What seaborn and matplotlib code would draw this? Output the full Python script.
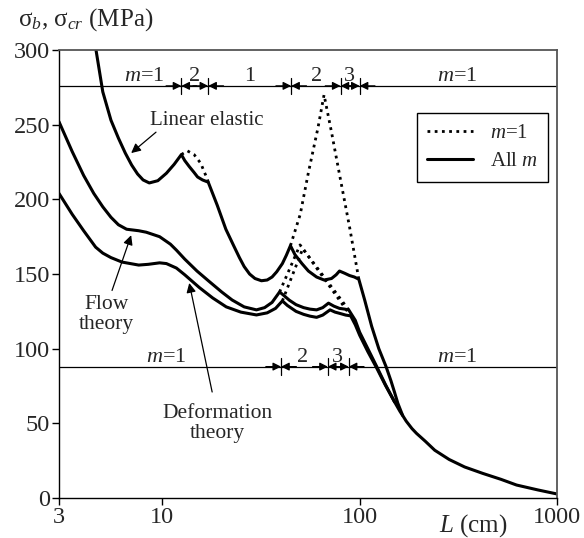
"""
Buckling / bending stress against length L for linear elastic,
flow theory and deformation theory (dotted: m=1 only, solid: all m).
"""

import numpy as np
import matplotlib
matplotlib.use("Agg")
import matplotlib.pyplot as plt
import seaborn as sns

# ---- data ----
elastic_L = [4.4, 4.62, 5, 5.5, 6, 6.5, 7, 7.5, 8, 8.6, 9.5, 10.5, 11.5, 12.5,
             13, 13.7, 14.5, 15.1, 16, 17.1, 19, 21, 23, 24.6, 26, 27.7, 29.5,
             31.8, 34, 36, 38, 40.6, 42.5, 44.6, 47, 51, 55, 60.5, 66, 72, 76,
             79, 84, 88.8, 94, 99, 106, 115, 125, 136, 144, 150, 156, 165]
elastic_s = [317, 300, 272, 253, 241, 231, 223, 217, 213, 211, 212.5, 217.5,
             223.5, 230, 226, 222, 218, 215, 213, 211.5, 196, 180, 169, 161,
             155, 150, 147, 145.5, 146, 148, 151.5, 157, 162.5, 169, 163, 157,
             152, 148, 146, 147, 149.5, 152, 150.5, 149, 148, 146.5, 132.6,
             115, 100, 88, 78.5, 71, 63.5, 55.3]

elastic_m1_a_L = [12.5, 13.4, 14.5, 15.7, 16.3, 16.9, 17.1]
elastic_m1_a_s = [230, 232.5, 230, 224, 218.5, 214, 211.5]
elastic_m1_b_L = [44.6, 50, 55, 61.5, 66, 72, 80, 89, 99]
elastic_m1_b_s = [169, 190, 218, 248, 270, 245, 213, 181, 146.5]

flow_L = [3, 3.5, 4, 4.5, 5, 5.5, 6, 6.6, 7.6, 8.3, 9.7, 11, 11.8, 13, 15,
          17.3, 20, 22.6, 26, 30, 33, 36, 39.3, 41, 44, 47.6, 52, 56, 60.5,
          65, 69.5, 74, 79, 84, 88, 95, 100, 110, 122, 135, 150]
flow_s = [252, 232, 216, 204, 195, 188, 183, 180, 179, 178, 175, 170, 166,
          160, 152, 145, 138, 132.6, 128, 126, 127.5, 131, 138, 136, 132.5,
          129.5, 127.5, 126.5, 126, 127.5, 130.5, 128.5, 127, 126.5, 126, 119,
          111, 100, 88, 76, 64.5]
flow_m1_L = [39.3, 49.9, 88]
flow_m1_s = [138, 169.5, 126]

deform_L = [3, 3.5, 4, 4.6, 5, 5.5, 6.26, 7.6, 8.5, 9.7, 10.5, 11.8, 13, 15.4,
            18, 21.1, 25, 30, 34, 37.5, 40.6, 43, 47.6, 52, 56, 60.5, 65,
            70.8, 75, 79, 85, 90, 95, 100, 110, 122, 135, 150]
deform_s = [204, 190, 179, 168, 164, 161, 158, 156, 156.5, 157.5, 157, 154,
            149.5, 141, 134, 128, 124.5, 122.6, 124, 127, 132, 129, 125, 123,
            121.8, 121, 122.5, 126, 124.5, 123.7, 122.5, 122, 116, 109, 98,
            87, 75.5, 64.5]
deform_m1_L = [40.6, 51.5, 90]
deform_m1_s = [132, 167, 122]

tail_L = [150, 160, 165, 172, 184, 194, 215, 240, 284, 340, 420, 520, 623,
          800, 1000]
tail_s = [64.5, 58, 55.3, 51.5, 46.5, 43.3, 38, 32, 25.8, 20.8, 16.5, 12.5,
          8.7, 5.4, 2.7]

# mode regions marked on the two horizontal lines
upper_level = 276
upper_bounds = [12.5, 17.1, 45, 80, 100]
upper_labels = ["$m$=1", "2", "1", "2", "3", "$m$=1"]
upper_label_x = [8.1, 14.5, 27.6, 60.6, 89, 313]

lower_level = 88
lower_bounds = [40, 69, 88]
lower_labels = ["$m$=1", "2", "3", "$m$=1"]
lower_label_x = [10.5, 51.3, 77.5, 313]

x_ticks = [3, 10, 100, 1000]
y_ticks = [0, 50, 100, 150, 200, 250, 300]

# ---- style ----
sns.set_style("ticks")
plt.rcParams["font.family"] = ["Liberation Serif", "DejaVu Serif"]
plt.rcParams["mathtext.fontset"] = "custom"
plt.rcParams["mathtext.rm"] = "Liberation Serif"
plt.rcParams["mathtext.it"] = "Liberation Serif:italic"

fig = plt.figure(figsize=(5.84, 5.38), dpi=100)
ax = fig.add_axes([0.101, 0.0743, 0.853, 0.8327])

lw = 2.2
dots = (0, (1, 1.6))

for L, s in [(elastic_L, elastic_s), (flow_L, flow_s),
             (deform_L, deform_s), (tail_L, tail_s)]:
    sns.lineplot(x=L, y=s, ax=ax, color="black", lw=lw, sort=False,
                 estimator=None)

for L, s in [(elastic_m1_a_L, elastic_m1_a_s), (elastic_m1_b_L, elastic_m1_b_s),
             (flow_m1_L, flow_m1_s), (deform_m1_L, deform_m1_s)]:
    sns.lineplot(x=L, y=s, ax=ax, color="black", lw=2.0, ls=dots,
                 sort=False, estimator=None)

ax.set_xscale("log")
ax.set_xlim(3, 1000)
ax.set_ylim(0, 300)
ax.set_xticks(x_ticks)
ax.set_xticklabels([str(t) for t in x_ticks])
ax.set_yticks(y_ticks)
ax.minorticks_off()
ax.tick_params(labelsize=17.5, length=5, width=1, pad=1.5, color="black")
ax.set_xlabel("")
ax.set_ylabel("")
for side in ["left", "bottom"]:
    ax.spines[side].set_color("black")
    ax.spines[side].set_linewidth(1)
for side in ["top", "right"]:
    ax.spines[side].set_color("#555555")
    ax.spines[side].set_linewidth(1.3)


def mode_line(level, bounds, labels, label_x):
    ax.axhline(level, color="black", lw=0.9)
    for b in bounds:
        ax.plot([b, b], [level - 5.5, level + 5.5], color="black", lw=0.9)
        for dx in (-11, 11):
            ax.annotate("", xy=(b, level), xytext=(dx, 0),
                        textcoords="offset points",
                        arrowprops=dict(arrowstyle="-|>", color="black",
                                        lw=0.9, mutation_scale=12,
                                        shrinkA=0, shrinkB=0))
    for lab, x in zip(labels, label_x):
        ax.text(x, level + 3.2, lab, ha="center", va="baseline", fontsize=16)


mode_line(upper_level, upper_bounds, upper_labels, upper_label_x)
mode_line(lower_level, lower_bounds, lower_labels, lower_label_x)

# curve names with pointer arrows
arrow = dict(arrowstyle="-|>", color="black", lw=0.9, mutation_scale=14,
             shrinkA=0, shrinkB=0)
ax.annotate("", xy=(6.96, 231), xytext=(9.3, 245), arrowprops=arrow)
ax.text(16.9, 253, "Linear elastic", ha="center", va="center", fontsize=15)
ax.annotate("", xy=(6.96, 176), xytext=(5.57, 139), arrowprops=arrow)
ax.text(5.2, 123, "Flow\ntheory", ha="center", va="center", fontsize=15.5,
        linespacing=1.05)
ax.annotate("", xy=(13.7, 144), xytext=(17.9, 71), arrowprops=arrow)
ax.text(19, 50, "Deformation\ntheory", ha="center", va="center", fontsize=15.5,
        linespacing=1.05)

# legend
ax.plot([], [], color="black", lw=2.0, ls=dots, label="$m$=1")
ax.plot([], [], color="black", lw=lw, label="All $m$")
leg = ax.legend(loc="upper right", bbox_to_anchor=(0.982, 0.859),
                borderaxespad=0, fontsize=15, frameon=True, fancybox=False,
                edgecolor="black", framealpha=1, handlelength=2.2,
                borderpad=0.5, labelspacing=0.4)
leg.get_frame().set_linewidth(1)

ax.text(0.831, -0.062, "$L$ (cm)", transform=ax.transAxes, ha="center",
        va="center", fontsize=18)
fig.text(18 / 584, 1 - 20 / 538, "σ$_{b}$, σ$_{cr}$ (MPa)", ha="left",
         va="center", fontsize=18)

fig.savefig("out.png", dpi=100)
